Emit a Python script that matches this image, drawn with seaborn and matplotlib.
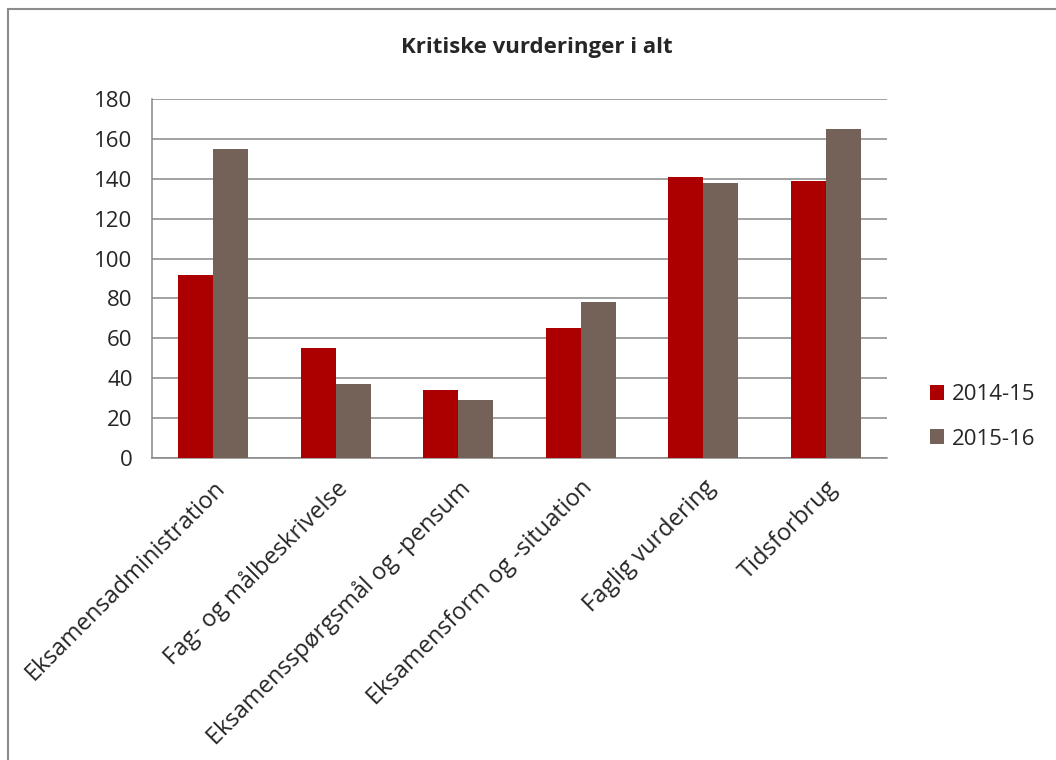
import numpy as np
import pandas as pd
import matplotlib
matplotlib.use("Agg")
import matplotlib.pyplot as plt
from matplotlib.patches import Rectangle
import seaborn as sns

# values
categories = [
    "Eksamensadministration",
    "Fag- og målbeskrivelse",
    "Eksamensspørgsmål og -pensum",
    "Eksamensform og -situation",
    "Faglig vurdering",
    "Tidsforbrug",
]
values_2014 = [92, 55, 34, 65, 141, 139]
values_2015 = [155, 37, 29, 78, 138, 165]
series = ["2014-15", "2015-16"]
colors = ["#AC0000", "#746259"]

df = pd.DataFrame({
    "Kategori": categories * 2,
    "Antal": values_2014 + values_2015,
    "Periode": [series[0]] * len(categories) + [series[1]] * len(categories),
})

sns.set_style("white")
plt.rcParams["font.family"] = ["Open Sans", "DejaVu Sans"]

fig = plt.figure(figsize=(10.56, 7.6), dpi=100)
ax = fig.add_axes([152 / 1056, 1 - 458 / 760, 735 / 1056, 359 / 760])

sns.barplot(data=df, x="Kategori", y="Antal", hue="Periode", order=categories,
            hue_order=series, palette=colors, saturation=1, width=0.57,
            linewidth=0, ax=ax, zorder=3)

grid_col = "#878787"
ax.set_ylim(0, 180)
ax.set_yticks(np.arange(0, 181, 20))
ax.set_xlim(-0.5, len(categories) - 0.5)
ax.yaxis.grid(True, color=grid_col, linewidth=1.1)
ax.set_axisbelow(True)
for side in ["top", "right"]:
    ax.spines[side].set_visible(False)
for side in ["left", "bottom"]:
    ax.spines[side].set_color(grid_col)
    ax.spines[side].set_linewidth(1.1)

ax.tick_params(axis="y", length=5, width=1.1, color=grid_col, labelsize=16, pad=9)
ax.tick_params(axis="x", length=0, labelsize=17, pad=13)
ax.set_xticks(range(len(categories)))
ax.set_xticklabels(categories, rotation=45, ha="right", rotation_mode="anchor")
ax.set_xlabel("")
ax.set_ylabel("")

fig.text(537 / 1056, 1 - 48 / 760, "Kritiske vurderinger i alt", ha="center",
         va="center", fontsize=16, fontweight="bold")

handles, labels = ax.get_legend_handles_labels()
ax.legend(handles, labels, loc="center left", bbox_to_anchor=(910 / 1056, 1 - 417 / 760),
          bbox_transform=fig.transFigure, frameon=False, fontsize=16,
          handlelength=0.65, handleheight=0.65, handletextpad=0.35, labelspacing=1.05)

# outer chart border like the original chart area
fig.add_artist(Rectangle((8 / 1056, -0.1), 1.2, 751 / 760 + 0.1, transform=fig.transFigure,
                         fill=False, edgecolor="#8c8c8c", linewidth=1.5))

fig.savefig("out.png", dpi=100)
